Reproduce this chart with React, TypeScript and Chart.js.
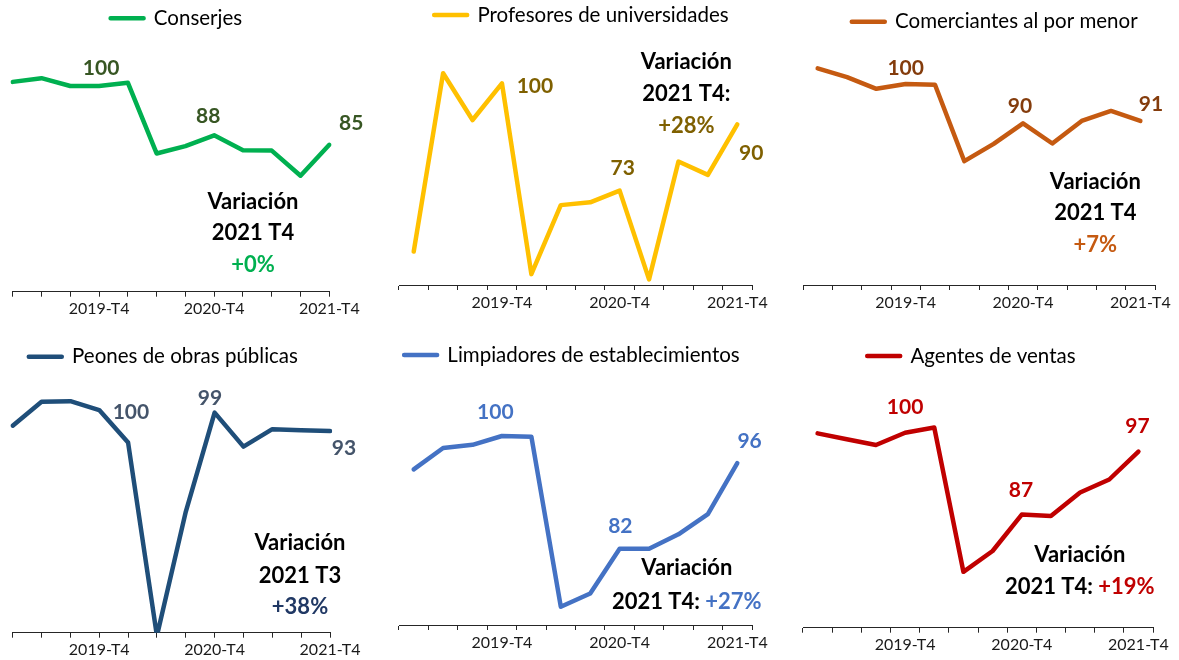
import React, { useEffect, useRef } from 'react';
import { Chart, registerables } from 'chart.js';

Chart.register(...registerables);

const FONT = 'Lato, "Open Sans", sans-serif';

// ---------- data ----------
const quarters = [
  '2019-T1', '2019-T2', '2019-T3', '2019-T4',
  '2020-T1', '2020-T2', '2020-T3', '2020-T4',
  '2021-T1', '2021-T2', '2021-T3', '2021-T4',
];

const conserjes = [101.0, 101.9, 100.0, 100.0, 100.8, 83.6, 85.4, 88.0, 84.4, 84.3, 78.2, 85.7];
const profesores = [58.3, 102.5, 90.9, 100.0, 52.7, 69.8, 70.5, 73.4, 51.4, 80.6, 77.3, 89.8];
const comerciantes = [103.9, 101.7, 98.8, 100.0, 99.8, 80.8, 85.1, 90.2, 85.2, 90.8, 93.3, 90.8];
const peones = [95.1, 102.6, 102.8, 100.0, 89.8, 29.0, 68.0, 99.2, 88.5, 94.0, 93.7, 93.4];
const limpiadores = [94.7, 98.1, 98.6, 100.0, 99.9, 72.9, 75.0, 82.1, 82.1, 84.4, 87.6, 95.7];
const agentes = [99.9, 99.0, 98.1, 100.0, 100.8, 78.6, 81.8, 87.4, 87.2, 90.8, 92.8, 97.1];

const conserjesLabels = [{ i: 3, text: '100' }, { i: 7, text: '88' }, { i: 11, text: '85' }];
const profesoresLabels = [{ i: 3, text: '100' }, { i: 7, text: '73' }, { i: 11, text: '90' }];
const comerciantesLabels = [{ i: 3, text: '100' }, { i: 7, text: '90' }, { i: 11, text: '91' }];
const peonesLabels = [{ i: 3, text: '100' }, { i: 7, text: '99' }, { i: 11, text: '93' }];
const limpiadoresLabels = [{ i: 3, text: '100' }, { i: 7, text: '82' }, { i: 11, text: '96' }];
const agentesLabels = [{ i: 3, text: '100' }, { i: 7, text: '87' }, { i: 11, text: '97' }];

type Part = { text: string; color: string };
const K = '#000000';
const conserjesNote: Part[][] = [[{ text: 'Variación', color: K }], [{ text: '2021 T4', color: K }], [{ text: '+0%', color: '#00B050' }]];
const profesoresNote: Part[][] = [[{ text: 'Variación', color: K }], [{ text: '2021 T4:', color: K }], [{ text: '+28%', color: '#7F6000' }]];
const comerciantesNote: Part[][] = [[{ text: 'Variación', color: K }], [{ text: '2021 T4', color: K }], [{ text: '+7%', color: '#C55A11' }]];
const peonesNote: Part[][] = [[{ text: 'Variación', color: K }], [{ text: '2021 T3', color: K }], [{ text: '+38%', color: '#203864' }]];
const limpiadoresNote: Part[][] = [[{ text: 'Variación', color: K }], [{ text: '2021 T4: ', color: K }, { text: '+27%', color: '#4472C4' }]];
const agentesNote: Part[][] = [[{ text: 'Variación', color: K }], [{ text: '2021 T4: ', color: K }, { text: '+19%', color: '#C00000' }]];

// ---------- panel layout / style ----------
type PanelDef = {
  name: string;
  values: number[];
  color: string;
  labelColor: string;
  pointLabels: { i: number; text: string }[];
  labelOffsets: [number, number][];
  note: Part[][];
  noteX: number;
  noteYs: number[];
  yMin: number;
  ppu: number;
  box: { left: number; top: number; width: number; height: number };
  chartL: number;
  chartR: number;
  chartB: number;
  legendY: number;
  shift: number;
  offset: boolean;
};

const panels: PanelDef[] = [
  {
    name: 'Conserjes', values: conserjes, color: '#00B050', labelColor: '#375623',
    pointLabels: conserjesLabels, labelOffsets: [[2, -18], [-6, -18.7], [22, -22]],
    note: conserjesNote, noteX: 253, noteYs: [201.7, 233, 265],
    yMin: 50, ppu: 4.114,
    box: { left: 0, top: 0, width: 393, height: 330 },
    chartL: 12.7, chartR: 329.3, chartB: 291.7, legendY: 18.3, shift: 5.4, offset: false,
  },
  {
    name: 'Profesores de universidades', values: profesores, color: '#FFC000', labelColor: '#7F6000',
    pointLabels: profesoresLabels, labelOffsets: [[33, 3], [3, -22], [14, 29]],
    note: profesoresNote, noteX: 686.3, noteYs: [61.7, 94.3, 126],
    yMin: 50, ppu: 4.034,
    box: { left: 380, top: 0, width: 406, height: 330 },
    chartL: 399, chartR: 752, chartB: 285, legendY: 15, shift: 5.9, offset: true,
  },
  {
    name: 'Comerciantes al por menor', values: comerciantes, color: '#C55A11', labelColor: '#843C0C',
    pointLabels: comerciantesLabels, labelOffsets: [[0, -15.7], [-3, -17.3], [10.7, -17]],
    note: comerciantesNote, noteX: 1095.3, noteYs: [181.7, 213.3, 245],
    yMin: 50, ppu: 4.02,
    box: { left: 770, top: 0, width: 409, height: 330 },
    chartL: 803, chartR: 1155, chartB: 285, legendY: 21.7, shift: 15.7, offset: true,
  },
  {
    name: 'Peones de obras públicas', values: peones, color: '#1F4E79', labelColor: '#44546A',
    pointLabels: peonesLabels, labelOffsets: [[31.7, 1.7], [-4.7, -14.4], [14, 17.3]],
    note: peonesNote, noteX: 300, noteYs: [542.7, 576, 606.7],
    yMin: 30, ppu: 3.18,
    box: { left: -10, top: 330, width: 403, height: 330 },
    chartL: 12.7, chartR: 330, chartB: 632.7, legendY: 356.7, shift: -8, offset: false,
  },
  {
    name: 'Limpiadores de establecimientos', values: limpiadores, color: '#4472C4', labelColor: '#4472C4',
    pointLabels: limpiadoresLabels, labelOffsets: [[-6.6, -23.3], [0.7, -22.3], [12.3, -22.3]],
    note: limpiadoresNote, noteX: 686.8, noteYs: [568.3, 601.7],
    yMin: 70, ppu: 6.3,
    box: { left: 380, top: 330, width: 406, height: 330 },
    chartL: 399, chartR: 752, chartB: 625, legendY: 355, shift: -3.6, offset: true,
  },
  {
    name: 'Agentes de ventas', values: agentes, color: '#C00000', labelColor: '#C00000',
    pointLabels: agentesLabels, labelOffsets: [[0, -25], [-0.7, -24.3], [-1, -25]],
    note: agentesNote, noteX: 1079.8, noteYs: [555, 587.3],
    yMin: 70, ppu: 6.5,
    box: { left: 770, top: 330, width: 409, height: 330 },
    chartL: 803, chartR: 1153, chartB: 627.7, legendY: 356, shift: -6.6, offset: true,
  },
];

const LEGEND_FONT = 20.5;
const X_AXIS_H = 24;

function Panel({ def }: { def: PanelDef }) {
  const ref = useRef<HTMLCanvasElement>(null);

  useEffect(() => {
    const canvas = ref.current;
    if (!canvas) return;
    const { box } = def;
    const localL = def.chartL - box.left;
    const localR = def.chartR - box.left;
    const localB = def.chartB - box.top;
    const legendYLocal = def.legendY - box.top;
    const legendPad = Math.max(0, legendYLocal - LEGEND_FONT / 2);
    const chartTop = legendPad + LEGEND_FONT + legendPad * 0 + 10 + 0;
    const chartTopAdj = chartTop; // legend height = font + padding + 10
    const yMax = def.yMin + (localB - chartTopAdj) / def.ppu;
    const axisW = Math.abs(def.shift) * 2;
    const padL = localL - (def.shift < 0 ? axisW : 0);
    const padR = box.width - localR - (def.shift > 0 ? axisW : 0);
    const padB = box.height - localB - X_AXIS_H;

    const annot = {
      id: 'annot',
      afterDatasetsDraw(chart: any) {
        const ctx = chart.ctx as CanvasRenderingContext2D;
        const xs = chart.scales.x;
        const ys = chart.scales.y;
        ctx.save();
        ctx.textBaseline = 'middle';
        ctx.textAlign = 'center';
        ctx.font = `bold 21px ${FONT}`;
        ctx.fillStyle = def.labelColor;
        def.pointLabels.forEach((pl, k) => {
          const [dx, dy] = def.labelOffsets[k];
          ctx.fillText(pl.text, xs.getPixelForValue(pl.i) + dx, ys.getPixelForValue(def.values[pl.i]) + dy);
        });
        ctx.font = `bold 22px ${FONT}`;
        ctx.textAlign = 'left';
        def.note.forEach((line, k) => {
          const widths = line.map((p) => ctx.measureText(p.text).width);
          const total = widths.reduce((a, b) => a + b, 0);
          let x = def.noteX - box.left - total / 2;
          const y = def.noteYs[k] - box.top;
          line.forEach((p, j) => {
            ctx.fillStyle = p.color;
            ctx.fillText(p.text, x, y);
            x += widths[j];
          });
        });
        ctx.restore();
      },
    };

    const chart = new Chart(canvas, {
      type: 'line',
      data: {
        labels: quarters,
        datasets: [
          {
            label: def.name,
            data: def.values,
            borderColor: def.color,
            backgroundColor: def.color,
            borderWidth: 4.5,
            pointRadius: 0,
            pointHoverRadius: 0,
            tension: 0,
            borderCapStyle: 'round',
            borderJoinStyle: 'round',
          },
        ],
      },
      options: {
        responsive: false,
        animation: false,
        events: [],
        layout: { padding: { left: padL, right: padR, top: 0, bottom: padB } },
        plugins: {
          tooltip: { enabled: false },
          legend: {
            display: true,
            position: 'top',
            align: 'center',
            labels: {
              color: '#000000',
              font: { family: FONT, size: LEGEND_FONT },
              boxWidth: 33,
              boxHeight: 0,
              padding: legendPad,
            },
          },
        },
        scales: {
          x: {
            type: 'category',
            offset: def.offset,
            grid: {
              offset: def.offset,
              drawOnChartArea: false,
              drawTicks: true,
              tickLength: 5,
              color: '#262626',
              lineWidth: 1,
            },
            border: { display: true, color: '#262626', width: 1 },
            ticks: {
              autoSkip: false,
              maxRotation: 0,
              minRotation: 0,
              padding: 3,
              color: '#1a1a1a',
              font: { family: FONT, size: 16 },
              callback: (_v: any, i: number) => (quarters[i].endsWith('T4') ? quarters[i] : ''),
            },
            afterFit: (s: any) => {
              s.height = X_AXIS_H;
            },
          },
          y: {
            display: def.shift !== 0,
            position: def.shift > 0 ? 'right' : 'left',
            min: def.yMin,
            max: yMax,
            grid: { display: false, drawTicks: false },
            border: { display: false },
            ticks: { display: false },
            afterFit: (s: any) => {
              s.width = axisW;
            },
          },
        },
      },
      plugins: [annot],
    } as any);

    return () => chart.destroy();
  }, [def]);

  return (
    <canvas
      ref={ref}
      width={def.box.width}
      height={def.box.height}
      style={{
        position: 'absolute',
        left: def.box.left,
        top: def.box.top,
        width: def.box.width,
        height: def.box.height,
        display: 'block',
      }}
    />
  );
}

export default function App() {
  return (
    <div
      style={{
        position: 'absolute',
        left: 0,
        top: 0,
        width: 1179,
        height: 660,
        background: '#ffffff',
        overflow: 'hidden',
      }}
    >
      {panels.map((p) => (
        <Panel key={p.name} def={p} />
      ))}
    </div>
  );
}
